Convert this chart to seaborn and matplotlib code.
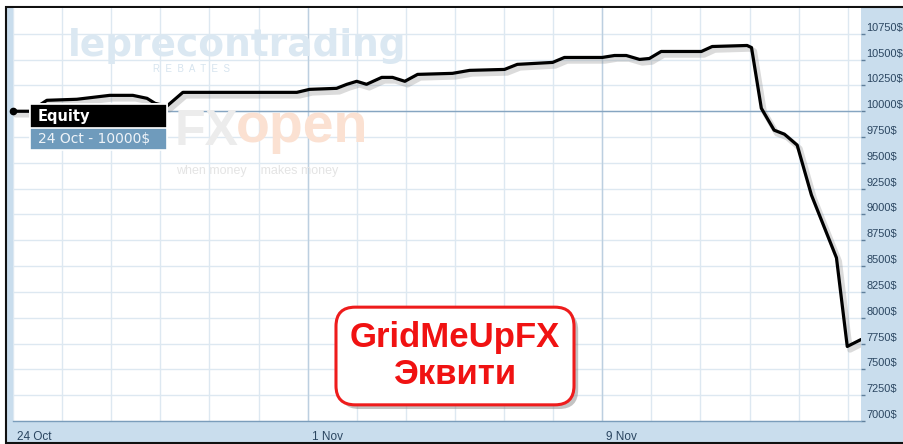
import numpy as np
import matplotlib
matplotlib.use("Agg")
import matplotlib.pyplot as plt
import matplotlib.patheffects as pe
from matplotlib.patches import Rectangle
from matplotlib.transforms import ScaledTranslation
import seaborn as sns

# equity curve, x = trading days since 24 Oct (weekends are skipped on the axis)
day_pos = [0.00, 0.35, 0.69, 1.30, 1.97, 2.44, 2.73, 2.89, 3.13, 3.46,
           5.78, 6.04, 6.59, 6.80, 7.00, 7.20, 7.51, 7.73, 7.98, 8.24,
           8.95, 9.30, 10.01, 10.27, 10.99, 11.23, 12.00, 12.25, 12.49, 12.76,
           12.96, 13.20, 14.02, 14.24, 14.95, 15.04, 15.24, 15.50, 15.71, 15.97,
           16.26, 16.77, 16.99, 17.27]
equity = [10000, 10000, 10106, 10116, 10154, 10154, 10125, 10077, 10048, 10183,
          10183, 10212, 10222, 10261, 10290, 10261, 10328, 10328, 10290, 10357,
          10367, 10396, 10405, 10454, 10473, 10521, 10521, 10540, 10540, 10502,
          10511, 10579, 10579, 10627, 10637, 10617, 10029, 9817, 9778, 9672,
          9189, 8581, 7722, 7789]

day_ticks = list(range(18))
date_pos = [0, 6, 12]
date_labels = ["24 Oct", "1 Nov", "9 Nov"]
y_ticks = list(range(7000, 11000, 250))
y_labels = [f"{v}$" for v in y_ticks]

tooltip_title = "Equity"
tooltip_text = "24 Oct - 10000$"
badge_text = "GridMeUpFX\nЭквити"

W, H = 904, 444
PANEL = "#c9dded"
GRID = "#dde8f1"
LABEL = "#2a4560"


def fx(px):
    return px / W


def fy(py):
    return 1 - py / H


sns.set_style("white")
plt.rcParams["font.family"] = ["Liberation Sans", "DejaVu Sans"]

fig = plt.figure(figsize=(W / 100, H / 100), dpi=100)
fig.patch.set_facecolor("white")

# blue frame behind the plot area (right and bottom panels)
fig.patches.append(Rectangle((fx(6), fy(443)), fx(W + 10 - 6), (443 - 7) / H,
                             transform=fig.transFigure, facecolor=PANEL,
                             edgecolor="#111111", lw=1.5, zorder=-5))

ax = fig.add_axes([fx(13), 23 / H, 848 / W, 413 / H])
ax.set_facecolor("white")
ax.set_xlim(0, 17.27)
ax.set_ylim(7000, 11000)

# grid
ax.set_xticks(day_ticks, minor=True)
ax.set_xticks(date_pos)
ax.set_yticks(y_ticks)
ax.grid(True, which="both", axis="x", color=GRID, lw=1)
ax.grid(True, which="major", axis="y", color=GRID, lw=1)
ax.set_axisbelow(True)
for d in date_pos[1:]:
    ax.axvline(d, color="#bccfe0", lw=1, zorder=0.6)
ax.axhline(10000, color="#86a5c1", lw=1, zorder=0.6)

for s in ["top", "left", "right"]:
    ax.spines[s].set_visible(False)
ax.spines["bottom"].set_color("#7b9dbb")
ax.spines["bottom"].set_linewidth(1)

# x ticks: long marks at dates, short marks for every day
ax.set_xticklabels(date_labels)
ax.tick_params(axis="x", which="major", direction="out", length=15, width=1,
               color="#9db7cc", pad=-7.5, labelsize=8.5, labelcolor=LABEL)
ax.tick_params(axis="x", which="minor", direction="out", length=4.5, width=1,
               color="#9db7cc")
for lab in ax.get_xticklabels():
    lab.set_ha("left")
    lab.set_transform(lab.get_transform() + ScaledTranslation(0.04, 0, fig.dpi_scale_trans))

# y ticks on the right, label sitting just above its grid line
ax.yaxis.tick_right()
ax.set_yticklabels(y_labels)
ax.tick_params(axis="y", direction="out", length=3, width=1, color="#5f7f9b",
               pad=1, labelsize=7.9, labelcolor=LABEL)
for lab in ax.get_yticklabels():
    lab.set_va("baseline")
    lab.set_transform(lab.get_transform() + ScaledTranslation(0, 0.03, fig.dpi_scale_trans))
ax.set_xlabel("")
ax.set_ylabel("")

# faint watermarks
ax.text(fx(68), fy(46), "leprecontrading", transform=fig.transFigure,
        fontsize=27, fontweight="bold", color="#dbe8f2", family="DejaVu Sans",
        va="center", ha="left", zorder=1)
ax.text(fx(192), fy(69), "R  E  B  A  T  E  S", transform=fig.transFigure,
        fontsize=7, color="#d6e4ef", va="center", ha="center", zorder=1)
ax.text(fx(175), fy(132), "FX", transform=fig.transFigure, fontsize=36,
        fontweight="bold", color="#ececec", va="center", ha="left", zorder=1)
ax.text(fx(236), fy(128), "open", transform=fig.transFigure, fontsize=40,
        fontweight="bold", color="#fbe1d2", va="center", ha="left", zorder=1)
ax.text(fx(176), fy(171), "when money    makes money", transform=fig.transFigure,
        fontsize=9, color="#e4e4e4", va="center", ha="left", zorder=1)

# equity line with soft shadow
sns.lineplot(x=day_pos, y=equity, ax=ax, color="black", lw=2.3,
             estimator=None, sort=False, zorder=3,
             path_effects=[pe.SimpleLineShadow(offset=(2, -2.5), shadow_color="#888888",
                                               alpha=0.3, linewidth=4),
                           pe.Normal()])
ax.plot(day_pos[:1], equity[:1], "o", color="black", ms=4.5, zorder=4, clip_on=False)

# tooltip box
ax.add_patch(Rectangle((fx(30), fy(150)), fx(137), (150 - 104) / H,
                       transform=fig.transFigure, facecolor="#6f9bbc",
                       edgecolor="white", lw=1.2, zorder=5, clip_on=False))
ax.add_patch(Rectangle((fx(30), fy(128)), fx(137), (128 - 104) / H,
                       transform=fig.transFigure, facecolor="black",
                       edgecolor="white", lw=1.2, zorder=5, clip_on=False))
ax.text(fx(38), fy(116), tooltip_title, transform=fig.transFigure, color="white",
        fontsize=10.5, fontweight="bold", family="DejaVu Sans", va="center",
        ha="left", zorder=6)
ax.text(fx(38), fy(139), tooltip_text, transform=fig.transFigure, color="#eef3f8",
        fontsize=10, family="DejaVu Sans", va="center", ha="left", zorder=6)

# red badge
badge = ax.text(fx(455), fy(356), badge_text, transform=fig.transFigure,
                ha="center", va="center", fontsize=25, fontweight="bold",
                color="#f01212", family="Liberation Sans", linespacing=1.15,
                zorder=7,
                bbox=dict(boxstyle="round,pad=0.4,rounding_size=0.55",
                          fc="white", ec="#ee1c1c", lw=2.2))
badge.get_bbox_patch().set_path_effects(
    [pe.withSimplePatchShadow(offset=(3, -3), shadow_rgbFace="#888888", alpha=0.5)])

fig.savefig("out.png", dpi=100)
